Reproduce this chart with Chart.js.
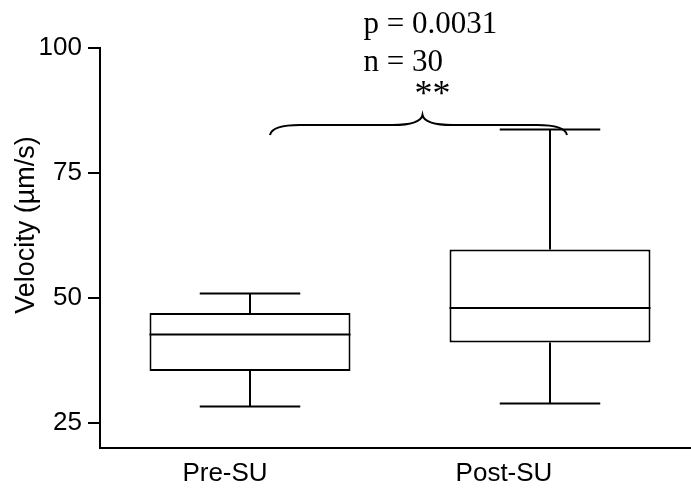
<!DOCTYPE html>
<html>
<head>
<meta charset="utf-8">
<title>Velocity</title>
<script src="https://cdn.jsdelivr.net/npm/chart.js@4/dist/chart.umd.min.js"></script>
<style>
    html, body { margin: 0; padding: 0; background: #fff; overflow: hidden; }
    #wrap { width: 691px; height: 488px; overflow: hidden; }
</style>
</head>
<body>
<div id="wrap"><canvas id="velocityChart" width="720" height="488"></canvas></div>
<script>
const groups = ['Pre-SU', 'Post-SU'];
const whiskerLow = [28.3, 28.9];
const quartileLow = [35.4, 41.1];
const medians = [42.7, 48.0];
const quartileHigh = [47.0, 59.7];
const whiskerHigh = [50.9, 83.7];
const yTicks = [25, 50, 75, 100];
const statLines = ['p = 0.0031', 'n = 30'];
const starLabel = '**';
const bracketLevel = 84.6;

const SANS = '"Liberation Sans", Arial, sans-serif';
const SERIF = '"Liberation Serif", "Times New Roman", serif';

// median line, whiskers and caps on top of the floating q1-q3 bars
const boxWhiskers = {
    id: 'boxWhiskers',
    afterDatasetsDraw(chart) {
        const { ctx, scales: { y } } = chart;
        const bars = chart.getDatasetMeta(0).data;
        ctx.save();
        ctx.strokeStyle = '#000';
        ctx.lineWidth = 2;
        bars.forEach((bar, i) => {
            const half = bar.width / 2;
            const cap = bar.width / 4;
            const yMed = y.getPixelForValue(medians[i]);
            const yQ1 = y.getPixelForValue(quartileLow[i]);
            const yQ3 = y.getPixelForValue(quartileHigh[i]);
            const yLo = y.getPixelForValue(whiskerLow[i]);
            const yHi = y.getPixelForValue(whiskerHigh[i]);
            ctx.beginPath();
            ctx.moveTo(bar.x - half, yMed); ctx.lineTo(bar.x + half, yMed);
            ctx.moveTo(bar.x, yQ3); ctx.lineTo(bar.x, yHi);
            ctx.moveTo(bar.x - cap, yHi); ctx.lineTo(bar.x + cap, yHi);
            ctx.moveTo(bar.x, yQ1); ctx.lineTo(bar.x, yLo);
            ctx.moveTo(bar.x - cap, yLo); ctx.lineTo(bar.x + cap, yLo);
            ctx.stroke();
        });
        ctx.restore();
    }
};

// curly bracket between the groups with the test result above it,
// plus the category labels and the rotated y title
const annotations = {
    id: 'annotations',
    afterDraw(chart, args, opts) {
        const { ctx, chartArea, scales: { x, y } } = chart;
        const xl = x.getPixelForValue(0) + 20;
        const xr = x.getPixelForValue(1) + 17;
        const xm = (xl + xr) / 2 + 4;
        const yb = y.getPixelForValue(bracketLevel);
        const h = 10;

        ctx.save();
        ctx.strokeStyle = '#000';
        ctx.lineWidth = 2;
        ctx.beginPath();
        ctx.moveTo(xl, yb + h);
        ctx.quadraticCurveTo(xl + 2, yb, xl + 30, yb);
        ctx.lineTo(xm - 30, yb);
        ctx.quadraticCurveTo(xm - 2, yb, xm, yb - h);
        ctx.quadraticCurveTo(xm + 2, yb, xm + 30, yb);
        ctx.lineTo(xr - 30, yb);
        ctx.quadraticCurveTo(xr - 2, yb, xr, yb + h);
        ctx.stroke();

        ctx.fillStyle = '#000';
        ctx.font = '31px ' + SERIF;
        ctx.textAlign = 'left';
        ctx.textBaseline = 'alphabetic';
        ctx.fillText(statLines[0], xm - 59, yb - 92);
        ctx.fillText(statLines[1], xm - 59, yb - 54);
        ctx.textAlign = 'center';
        ctx.font = '36px ' + SERIF;
        ctx.fillText(starLabel, xm + 10, yb - 20);

        ctx.font = '26px ' + SANS;
        groups.forEach((g, i) => {
            ctx.fillText(g, x.getPixelForValue(i) + opts.labelShift[i], chartArea.bottom + 33);
        });

        ctx.translate(27, (chartArea.top + chartArea.bottom) / 2 - 23);
        ctx.rotate(-Math.PI / 2);
        ctx.font = '27px ' + SANS;
        ctx.textBaseline = 'middle';
        ctx.fillText('Velocity (µm/s)', 0, 0);
        ctx.restore();
    }
};

const ctx = document.getElementById('velocityChart').getContext('2d');
new Chart(ctx, {
    type: 'bar',
    data: {
        labels: groups,
        datasets: [{
            data: groups.map((g, i) => [quartileLow[i], quartileHigh[i]]),
            backgroundColor: '#fff',
            borderColor: '#000',
            borderWidth: 2,
            borderSkipped: false,
            barPercentage: 0.67,
            categoryPercentage: 1
        }]
    },
    options: {
        responsive: false,
        animation: false,
        layout: { padding: { top: 48, right: 20, left: 0, bottom: 0 } },
        plugins: {
            legend: { display: false },
            tooltip: { enabled: false },
            annotations: { labelShift: [-25, -46] }
        },
        scales: {
            x: {
                grid: { display: false },
                border: { display: true, color: '#000', width: 2 },
                ticks: { display: false },
                afterFit: (scale) => { scale.height = 40; }
            },
            y: {
                min: 20,
                max: 100,
                afterBuildTicks: (scale) => { scale.ticks = yTicks.map(v => ({ value: v })); },
                afterFit: (scale) => { scale.width = 100; },
                grid: {
                    drawOnChartArea: false,
                    drawTicks: true,
                    tickLength: 12,
                    color: '#000',
                    lineWidth: 2
                },
                border: { display: true, color: '#000', width: 2 },
                ticks: {
                    color: '#000',
                    padding: 6,
                    font: { family: SANS, size: 26 }
                }
            }
        }
    },
    plugins: [boxWhiskers, annotations]
});
</script>
</body>
</html>
